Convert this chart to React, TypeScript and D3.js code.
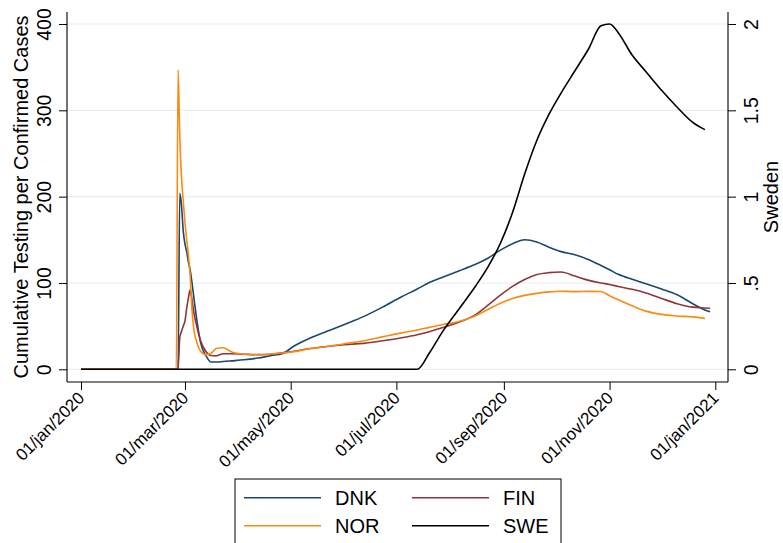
import React, { useEffect, useRef } from 'react';
import * as d3 from 'd3';

const WIDTH = 783;
const HEIGHT = 543;
const FONT = '"Liberation Sans", Arial, Helvetica, sans-serif';

// dates shared by all four series (denser around the early spike)
const DATES = [
    '2020-01-01', '2020-02-24', '2020-02-25', '2020-02-26', '2020-02-27', '2020-02-28', '2020-02-29',
    '2020-03-01', '2020-03-02', '2020-03-03', '2020-03-04', '2020-03-05', '2020-03-06', '2020-03-08',
    '2020-03-10', '2020-03-13', '2020-03-16', '2020-03-19', '2020-03-23', '2020-03-28', '2020-04-04',
    '2020-04-12', '2020-04-20', '2020-04-26', '2020-05-03', '2020-05-12', '2020-05-22', '2020-06-01',
    '2020-06-12', '2020-06-23', '2020-07-04', '2020-07-13', '2020-07-20', '2020-07-28', '2020-08-06',
    '2020-08-15', '2020-08-23', '2020-08-30', '2020-09-06', '2020-09-13', '2020-09-20', '2020-09-27',
    '2020-10-04', '2020-10-12', '2020-10-20', '2020-10-27', '2020-11-01', '2020-11-06', '2020-11-14',
    '2020-11-22', '2020-12-01', '2020-12-10', '2020-12-19', '2020-12-26', '2020-12-29',
];

const DNK = [
    0, 0, 0, 0, 204, 190, 160,
    145, 136, 124, 115, 101, 85, 55,
    31, 16, 8.5, 8.5, 9, 9.8, 11,
    13, 16, 18, 27, 36, 44, 52,
    61, 72, 84, 93, 100.5, 107, 114,
    121, 129, 138, 145.5, 150, 147.5, 141.5,
    136.3, 132.6, 127, 120.3, 115.3, 110, 104.2,
    99.2, 93, 86.3, 76, 68.7, 66.7,
];

const FIN = [
    0, 0, 0, 0, 37, 44, 50,
    56, 71, 83, 92, 81, 67, 48,
    33, 21, 16, 15.5, 18, 18, 17.5,
    17, 17.5, 19, 21, 24, 26.5, 28.5,
    30, 33, 36.5, 40, 43.5, 48.5, 54.5,
    62.5, 74.5, 86, 96, 104, 109.7, 112,
    112.8, 108, 103, 100, 98.3, 96, 92.7,
    88.4, 82, 76, 72, 71, 70.6,
];

const NOR = [
    0, 0, 0, 347, 270, 222, 195,
    170, 150, 132, 108, 70, 48, 30,
    21, 17, 18.5, 24, 25, 20, 17.5,
    16.8, 17.7, 18.8, 20.5, 23.8, 26.5, 29.6,
    33, 37.6, 42.2, 45.6, 48.6, 52, 55.4,
    61.5, 69.6, 76.6, 82, 85.6, 88, 89.7,
    90.5, 90, 90.3, 90.2, 85.2, 80.5, 73.5,
    67.4, 63.6, 61.8, 60.7, 59, null,
];

// Sweden is plotted on the right axis
const SWE = [
    0, 0, 0, 0, 0, 0, 0,
    0, 0, 0, 0, 0, 0, 0,
    0, 0, 0, 0, 0, 0, 0,
    0, 0, 0, 0, 0, 0, 0,
    0, 0, 0, 0, 0.094, 0.224, 0.348,
    0.472, 0.596, 0.73, 0.908, 1.131, 1.325, 1.476,
    1.6, 1.729, 1.858, 1.99, 2.0, 1.95, 1.82,
    1.724, 1.616, 1.518, 1.43, 1.388, null,
];

const LEFT_TICKS = [0, 100, 200, 300, 400];
const RIGHT_TICKS = [0, 0.5, 1, 1.5, 2];
const X_TICKS = ['2020-01-01', '2020-03-01', '2020-05-01', '2020-07-01', '2020-09-01', '2020-11-01', '2021-01-01'];
const X_DOMAIN = ['2020-01-01', '2021-01-01'];

const LEFT_TITLE = 'Cumulative Testing per Confirmed Cases';
const RIGHT_TITLE = 'Sweden';

const SERIES = [
    { key: 'DNK', values: DNK, axis: 'left', color: '#1a476f' },
    { key: 'FIN', values: FIN, axis: 'left', color: '#90353b' },
    { key: 'NOR', values: NOR, axis: 'left', color: '#fb8a10' },
    { key: 'SWE', values: SWE, axis: 'right', color: '#000000' },
];

// plot region edges
const PLOT = { left: 67, right: 728, top: 12, bottom: 382 };

const parse = d3.utcParse('%Y-%m-%d');
const fmt = d3.utcFormat('%d/%b/%Y');

const App = () => {
    const svgRef = useRef<SVGSVGElement>(null);

    useEffect(() => {
        const svg = d3.select(svgRef.current);
        svg.selectAll('*').remove();

        const x = d3.scaleUtc()
            .domain(X_DOMAIN.map(d => parse(d) as Date))
            .range([81, 715.3]);
        const yLeft = d3.scaleLinear().domain([0, 400]).range([369.3, 24]);
        const yRight = d3.scaleLinear().domain([0, 2]).range([369.3, 24]);

        svg.append('rect')
            .attr('width', WIDTH).attr('height', HEIGHT)
            .attr('fill', '#ffffff');

        // gridlines
        svg.append('g')
            .selectAll('line')
            .data(LEFT_TICKS)
            .join('line')
            .attr('x1', PLOT.left).attr('x2', PLOT.right)
            .attr('y1', d => yLeft(d)).attr('y2', d => yLeft(d))
            .attr('stroke', '#e6eef2')
            .attr('stroke-width', 1.2);

        // series
        const parsedDates = DATES.map(d => parse(d) as Date);
        SERIES.forEach(s => {
            const y = s.axis === 'left' ? yLeft : yRight;
            const pts = parsedDates.map((date, i) => ({ date, value: s.values[i] }));
            const gen = d3.line<{ date: Date, value: number | null }>()
                .defined(p => p.value != null)
                .x(p => x(p.date))
                .y(p => y(p.value as number))
                .curve(d3.curveMonotoneX);
            svg.append('path')
                .datum(pts)
                .attr('d', gen)
                .attr('fill', 'none')
                .attr('stroke', s.color)
                .attr('stroke-width', 1.6)
                .attr('stroke-linejoin', 'round');
        });

        // left axis
        const gl = svg.append('g').attr('transform', `translate(${PLOT.left},0)`)
            .call(d3.axisLeft(yLeft).tickValues(LEFT_TICKS).tickSize(8).tickSizeOuter(0));
        gl.select('.domain').remove();
        gl.selectAll('.tick text')
            .attr('x', null).attr('dy', null)
            .attr('transform', 'translate(-16.3,0) rotate(-90)')
            .attr('text-anchor', 'middle');

        // right axis
        const gr = svg.append('g').attr('transform', `translate(${PLOT.right},0)`)
            .call(d3.axisRight(yRight).tickValues(RIGHT_TICKS).tickSize(8).tickSizeOuter(0)
                .tickFormat(d => String(d).replace(/^0\./, '.')));
        gr.select('.domain').remove();
        gr.selectAll('.tick text')
            .attr('x', null).attr('dy', null)
            .attr('transform', 'translate(30.3,0) rotate(-90)')
            .attr('text-anchor', 'middle');

        // bottom axis
        const gb = svg.append('g').attr('transform', `translate(0,${PLOT.bottom})`)
            .call(d3.axisBottom(x).tickValues(X_TICKS.map(d => parse(d) as Date)).tickSize(8).tickSizeOuter(0)
                .tickFormat(d => fmt(d as Date).toLowerCase()));
        gb.select('.domain').remove();
        gb.selectAll('.tick text')
            .attr('y', null).attr('dy', null)
            .attr('transform', 'translate(4,17) rotate(-45)')
            .attr('text-anchor', 'end');

        [gl, gr, gb].forEach(g => g
            .attr('font-family', FONT)
            .attr('font-size', 19.5)
            .selectAll('.tick line').attr('stroke', '#000').attr('stroke-width', 1));
        gb.selectAll('.tick text').attr('font-size', 17);
        [gl, gr, gb].forEach(g => g.selectAll('.tick text').attr('fill', '#000'));

        // axis lines
        const frame = svg.append('g').attr('stroke', '#000').attr('stroke-width', 1.1);
        frame.append('line').attr('x1', PLOT.left).attr('x2', PLOT.left).attr('y1', PLOT.top).attr('y2', PLOT.bottom);
        frame.append('line').attr('x1', PLOT.right).attr('x2', PLOT.right).attr('y1', PLOT.top).attr('y2', PLOT.bottom);
        frame.append('line').attr('x1', PLOT.left).attr('x2', PLOT.right).attr('y1', PLOT.bottom).attr('y2', PLOT.bottom);

        // axis titles
        svg.append('text')
            .attr('transform', `translate(28,${(PLOT.top + PLOT.bottom) / 2}) rotate(-90)`)
            .attr('text-anchor', 'middle')
            .attr('font-family', FONT).attr('font-size', 20)
            .text(LEFT_TITLE);
        svg.append('text')
            .attr('transform', `translate(778,${(PLOT.top + PLOT.bottom) / 2}) rotate(-90)`)
            .attr('text-anchor', 'middle')
            .attr('font-family', FONT).attr('font-size', 20)
            .text(RIGHT_TITLE);

        // legend
        const lg = svg.append('g');
        lg.append('rect')
            .attr('x', 235).attr('y', 479).attr('width', 326).attr('height', 80)
            .attr('fill', '#fff').attr('stroke', '#000').attr('stroke-width', 1);
        SERIES.forEach((s, i) => {
            const col = i % 2;
            const row = Math.floor(i / 2);
            const lx = 244 + col * 168;
            const ly = 497.7 + row * 28;
            lg.append('line')
                .attr('x1', lx).attr('x2', lx + 77)
                .attr('y1', ly).attr('y2', ly)
                .attr('stroke', s.color).attr('stroke-width', 1.6);
            lg.append('text')
                .attr('x', lx + 91).attr('y', ly + 7.5)
                .attr('font-family', FONT).attr('font-size', 20)
                .text(s.key);
        });
    }, []);

    return (
        <svg ref={svgRef}
            width={WIDTH}
            height={HEIGHT}
            style={{ position: 'absolute', left: 0, top: 0, display: 'block' }} />
    );
};

export default App;
